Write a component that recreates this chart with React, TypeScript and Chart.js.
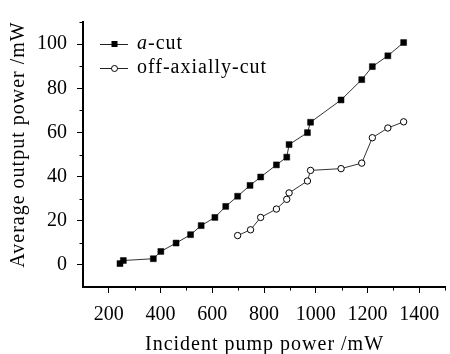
import React, { useEffect, useRef } from "react";
import { Chart, registerables } from "chart.js";

Chart.register(...registerables);

const pumpPower = [243, 256, 372, 401, 460, 516, 557, 610, 652, 698, 746, 787, 848, 888, 897, 968, 980, 1098, 1178, 1219, 1279, 1340];
const aCutOutput = [0.6, 2.0, 2.8, 6.1, 9.9, 13.7, 17.8, 21.5, 26.5, 31.1, 36.0, 39.8, 45.3, 48.8, 54.5, 59.9, 64.6, 74.7, 83.9, 89.8, 94.7, 100.7];
const offAxisPump = [698, 748, 787, 848, 888, 897, 968, 980, 1098, 1178, 1219, 1279, 1340];
const offAxisOutput = [13.3, 15.9, 21.5, 25.3, 29.7, 32.6, 38.0, 42.8, 43.6, 46.1, 57.6, 62.0, 64.8];

const xTicks = [200, 400, 600, 800, 1000, 1200, 1400];
const yTicks = [0, 20, 40, 60, 80, 100];
const xMinorTicks = [300, 500, 700, 900, 1100, 1300, 1500];
const yMinorTicks = [10, 30, 50, 70, 90, 110];

const seriesLabels = ["a-cut", "off-axially-cut"];
const xTitle = "Incident pump power /mW";
const yTitle = "Average output power /mW";

const FONT = '"Liberation Serif", "Times New Roman", serif';

const decorPlugin = {
  id: "decor",
  afterDraw(chart: any) {
    const ctx = chart.ctx as CanvasRenderingContext2D;
    const xs = chart.scales.x;
    const ys = chart.scales.y;
    const area = chart.chartArea;
    ctx.save();
    // minor ticks
    ctx.strokeStyle = "#000";
    ctx.lineWidth = 1;
    ctx.beginPath();
    xMinorTicks.forEach((v) => {
      const px = Math.round(xs.getPixelForValue(v)) + 0.5;
      ctx.moveTo(px, area.bottom);
      ctx.lineTo(px, area.bottom + 3.5);
    });
    yMinorTicks.forEach((v) => {
      const py = Math.round(ys.getPixelForValue(v)) + 0.5;
      ctx.moveTo(area.left, py);
      ctx.lineTo(area.left - 3.5, py);
    });
    ctx.stroke();

    // axis titles
    (ctx as any).letterSpacing = "1px";
    ctx.fillStyle = "#000";
    ctx.font = `20px ${FONT}`;
    ctx.textAlign = "center";
    ctx.textBaseline = "alphabetic";
    ctx.fillText(xTitle, (area.left + area.right) / 2 + 0.5, 350);
    ctx.save();
    ctx.translate(24, 145);
    ctx.rotate(-Math.PI / 2);
    ctx.fillText(yTitle, 0.5, 0);
    ctx.restore();

    // legend
    const rows = [44, 68];
    ctx.textAlign = "left";
    rows.forEach((ry, i) => {
      ctx.strokeStyle = "#222";
      ctx.lineWidth = 1;
      ctx.beginPath();
      ctx.moveTo(100, ry + 0.5);
      ctx.lineTo(128, ry + 0.5);
      ctx.stroke();
      if (i === 0) {
        ctx.fillStyle = "#000";
        ctx.fillRect(111.5, ry - 3, 6, 6);
      } else {
        ctx.beginPath();
        ctx.arc(114.5, ry + 0.5, 3, 0, Math.PI * 2);
        ctx.fillStyle = "#fff";
        ctx.fill();
        ctx.strokeStyle = "#000";
        ctx.stroke();
      }
      ctx.fillStyle = "#000";
      const label = seriesLabels[i];
      const baseY = ry + 5;
      if (i === 0) {
        ctx.font = `italic 20px ${FONT}`;
        ctx.fillText(label.slice(0, 1), 137, baseY);
        const w = ctx.measureText(label.slice(0, 1)).width;
        ctx.font = `20px ${FONT}`;
        ctx.fillText(label.slice(1), 137 + w, baseY);
      } else {
        ctx.font = `20px ${FONT}`;
        ctx.fillText(label, 137, baseY);
      }
    });
    ctx.restore();
  },
};

export default function App() {
  const ref = useRef<HTMLCanvasElement | null>(null);
  useEffect(() => {
    if (!ref.current) return;
    const chart = new Chart(ref.current, {
      type: "scatter",
      data: {
        datasets: [
          {
            label: seriesLabels[0],
            data: pumpPower.map((x, i) => ({ x, y: aCutOutput[i] })),
            showLine: true,
            borderColor: "#333",
            borderWidth: 1,
            pointStyle: "rect",
            pointRadius: 4.2,
            pointBackgroundColor: "#000",
            pointBorderColor: "#000",
            pointBorderWidth: 0.5,
          },
          {
            label: seriesLabels[1],
            data: offAxisPump.map((x, i) => ({ x, y: offAxisOutput[i] })),
            showLine: true,
            borderColor: "#333",
            borderWidth: 1,
            pointStyle: "circle",
            pointRadius: 3.2,
            pointBackgroundColor: "#fff",
            pointBorderColor: "#000",
            pointBorderWidth: 1,
          },
        ],
      },
      options: {
        animation: false,
        responsive: true,
        maintainAspectRatio: false,
        layout: { padding: { top: 13, right: 0, left: 0, bottom: 0 } },
        plugins: { legend: { display: false }, tooltip: { enabled: false } },
        scales: {
          x: {
            type: "linear",
            min: 100,
            max: 1500,
            afterFit: (s: any) => {
              s.height = 67;
            },
            afterBuildTicks: (s: any) => {
              s.ticks = xTicks.map((v) => ({ value: v }));
            },
            ticks: {
              color: "#000",
              font: { family: FONT, size: 20 },
              padding: 10,
              maxRotation: 0,
              autoSkip: false,
              callback: (v: any) => String(v),
            },
            grid: { drawOnChartArea: false, drawTicks: true, tickLength: 6, color: "#000", lineWidth: 1 },
            border: { display: true, color: "#000", width: 2 },
          },
          y: {
            type: "linear",
            min: -10,
            max: 110,
            afterFit: (s: any) => {
              s.width = 83;
            },
            afterBuildTicks: (s: any) => {
              s.ticks = yTicks.map((v) => ({ value: v }));
            },
            ticks: {
              color: "#000",
              font: { family: FONT, size: 20 },
              padding: 10,
              autoSkip: false,
              callback: (v: any) => String(v),
            },
            grid: { drawOnChartArea: false, drawTicks: true, tickLength: 6, color: "#000", lineWidth: 1 },
            border: { display: true, color: "#000", width: 2 },
          },
        },
      },
      plugins: [decorPlugin],
    });
    return () => chart.destroy();
  }, []);
  return (
    <div style={{ position: "fixed", left: 0, top: 0, width: 450, height: 354, background: "#fff" }}>
      <canvas ref={ref} />
    </div>
  );
}
